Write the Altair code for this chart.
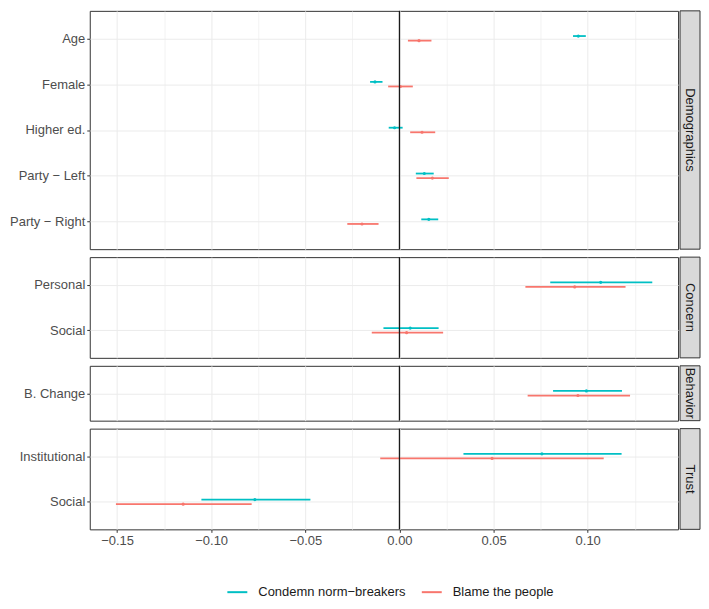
import altair as alt
import pandas as pd

# ---- data ----
groups = ["Demographics"] * 5 + ["Concern"] * 2 + ["Behavior"] + ["Trust"] * 2
variables = ["Age", "Female", "Higher ed.", "Party − Left", "Party − Right",
             "Personal", "Social", "B. Change", "Institutional", "Social"]
series = ["Condemn norm−breakers", "Blame the people"]

condemn_est = [0.0950, -0.0130, -0.0026, 0.0132, 0.0156, 0.1069, 0.0057, 0.0993, 0.0757, -0.0768]
condemn_lo = [0.0922, -0.0156, -0.0057, 0.0087, 0.0116, 0.0801, -0.0085, 0.0816, 0.0340, -0.1052]
condemn_hi = [0.0990, -0.0090, 0.0017, 0.0182, 0.0206, 0.1343, 0.0208, 0.1182, 0.1180, -0.0473]

blame_est = [0.0104, 0.0005, 0.0120, 0.0175, -0.0199, 0.0931, 0.0038, 0.0948, 0.0492, -0.1149]
blame_lo = [0.0045, -0.0060, 0.0057, 0.0090, -0.0277, 0.0669, -0.0147, 0.0681, -0.0102, -0.1506]
blame_hi = [0.0170, 0.0071, 0.0190, 0.0262, -0.0111, 0.1201, 0.0232, 0.1225, 0.1085, -0.0785]

panel_order = ["Demographics", "Concern", "Behavior", "Trust"]
x_major = [-0.15, -0.10, -0.05, 0.00, 0.05, 0.10]
x_minor = [-0.125, -0.075, -0.025, 0.025, 0.075, 0.125]
zero_line = [0.0]

rows = []
for i in range(len(variables)):
    rows.append(dict(group=groups[i], variable=variables[i], series=series[0],
                     est=condemn_est[i], lo=condemn_lo[i], hi=condemn_hi[i]))
    rows.append(dict(group=groups[i], variable=variables[i], series=series[1],
                     est=blame_est[i], lo=blame_lo[i], hi=blame_hi[i]))
df = pd.DataFrame(rows)

# ---- styling ----
STEP = 46
W = 590
FONT = "Liberation Sans"
FS = 13
TEAL, RED = "#00BFC4", "#F8766D"
color_scale = alt.Scale(domain=series, range=[TEAL, RED])
x_scale = alt.Scale(domain=[-0.1645, 0.148], nice=False, zero=False)
grid_values = sorted(x_major + x_minor)
is_major = "abs(round(datum.value*1000)) % 50 == 0"

color_enc = alt.Color("series:N", scale=color_scale, title=None,
                      legend=alt.Legend(orient="none", direction="horizontal",
                                        legendX=137, legendY=572,
                                        symbolType="stroke", symbolStrokeWidth=2,
                                        symbolSize=400, labelFontSize=FS,
                                        labelColor="#1A1A1A", labelFont=FONT,
                                        columnPadding=12, labelOffset=10))


def make_panel(g, last):
    cats = [v for v, gg in zip(variables, groups) if gg == g]
    h = round(STEP * (len(cats) + 0.2))
    sub = df[df.group == g]

    x_axis = alt.Axis(values=grid_values, title=None, grid=True, domain=False,
                      labels=last, ticks=last,
                      labelExpr=f"{is_major} ? format(datum.value, '.2f') : ''",
                      tickOpacity={"condition": {"test": is_major, "value": 1}, "value": 0},
                      gridWidth={"condition": {"test": is_major, "value": 1.0}, "value": 0.6},
                      gridColor="#EBEBEB", tickColor="#333333", tickSize=3,
                      labelColor="#4D4D4D", labelFontSize=FS, labelFont=FONT,
                      labelPadding=2)
    y_enc = alt.Y("variable:N", sort=cats, scale=alt.Scale(type="point", padding=0.6),
                  axis=alt.Axis(title=None, domain=False, grid=True, gridColor="#EBEBEB",
                                tickColor="#333333", tickSize=3, labelColor="#4D4D4D",
                                labelFontSize=FS, labelFont=FONT, labelPadding=2,
                                minExtent=80, maxExtent=80, labelLimit=120))

    layers = []
    for s, off in zip(series, [-2.3, 2.3]):
        ssub = sub[sub.series == s]
        bars = alt.Chart(ssub).mark_rule(strokeWidth=1.8, yOffset=off).encode(
            x=alt.X("lo:Q", scale=x_scale, axis=x_axis), x2="hi:Q", y=y_enc, color=color_enc)
        pts = alt.Chart(ssub).mark_point(filled=True, size=10, opacity=1, yOffset=off).encode(
            x=alt.X("est:Q", scale=x_scale, axis=x_axis), y=y_enc, color=color_enc)
        layers += [bars, pts]

    zero = alt.Chart(pd.DataFrame({"x": zero_line})).mark_rule(
        color="#1A1A1A", strokeWidth=1.3).encode(x=alt.X("x:Q", scale=x_scale, axis=x_axis))

    strip_df = pd.DataFrame({"label": [g]})
    strip = alt.Chart(strip_df).mark_rect(fill="#D9D9D9", stroke="#333333", strokeWidth=1).encode(
        x=alt.value(W + 2), x2=alt.value(W + 22), y=alt.value(0), y2=alt.value(h))
    strip_txt = alt.Chart(strip_df).mark_text(angle=90, fontSize=FS, color="#1A1A1A", font=FONT).encode(
        x=alt.value(W + 12), y=alt.value(h / 2), text="label:N")

    return alt.layer(*layers, zero, strip, strip_txt).properties(width=W, height=h)


panels = [make_panel(g, g == panel_order[-1]) for g in panel_order]

chart = alt.vconcat(*panels, spacing=4).resolve_scale(y="independent").properties(
    padding={"left": 0, "top": 0, "right": 0, "bottom": 0}
).configure_view(stroke="#333333", strokeWidth=1)

chart.save("out.html", embed_options={"renderer": "svg", "actions": False})
